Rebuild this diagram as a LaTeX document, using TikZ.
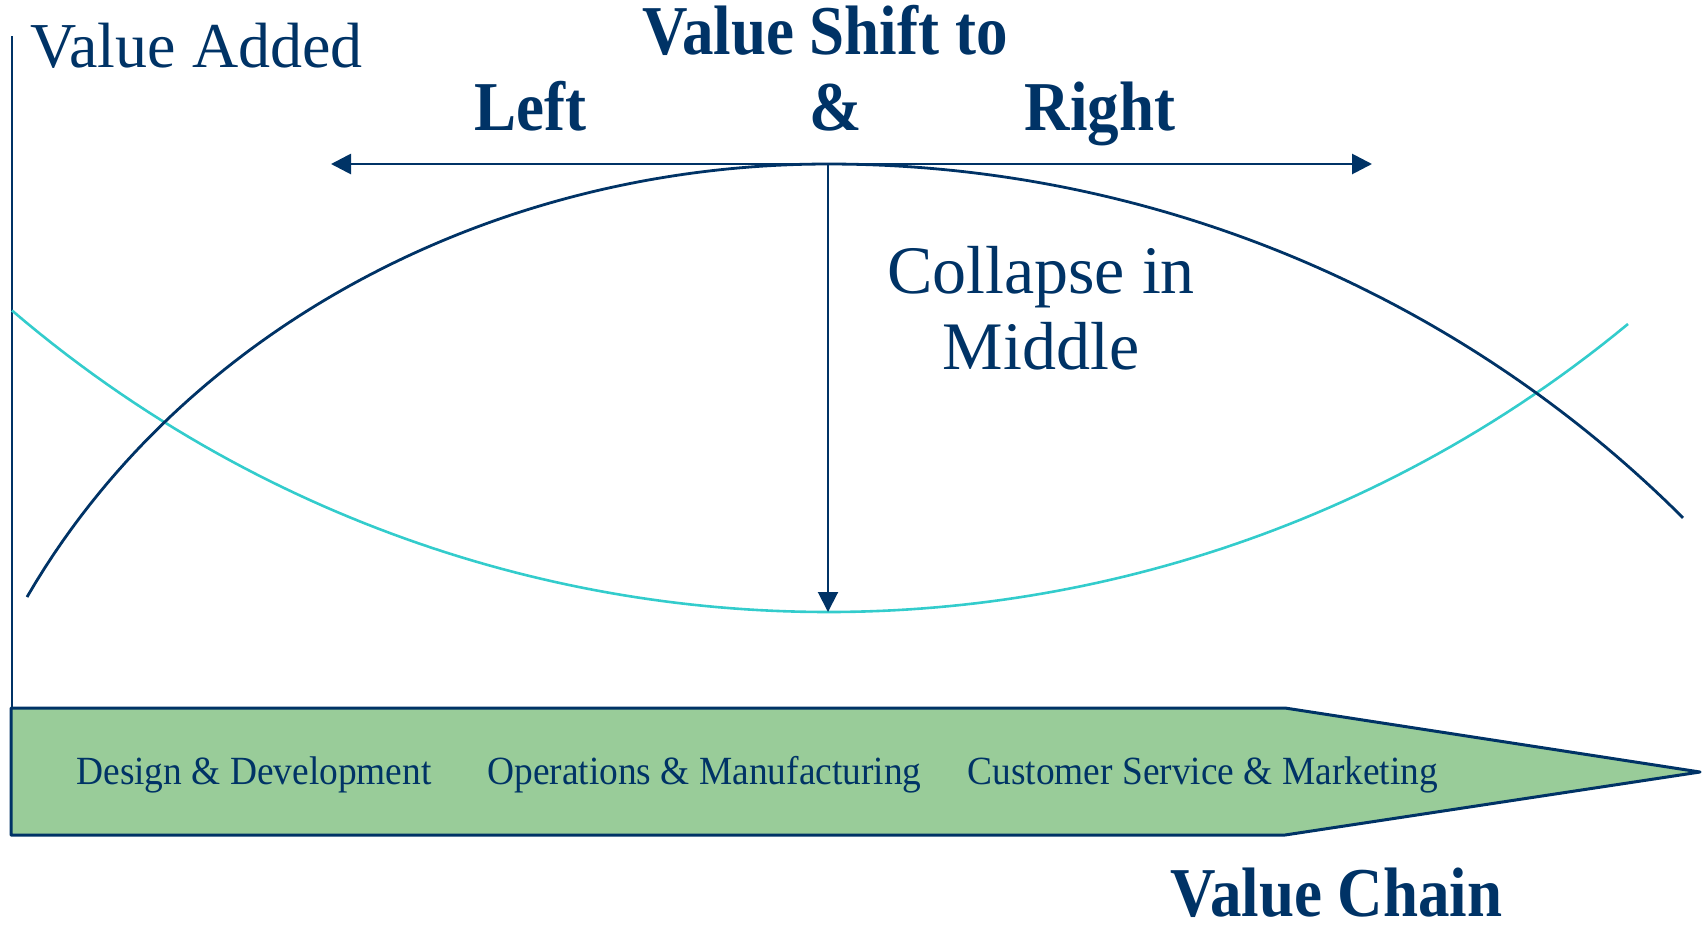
\documentclass[tikz,border=0pt]{standalone}
\usepackage{fontspec}
\setmainfont{Liberation Serif}
\newfontfamily\condA[FakeStretch=0.9]{Liberation Serif}
\newfontfamily\condB[FakeStretch=0.935]{Liberation Serif}
\usetikzlibrary{arrows.meta}
\definecolor{navy}{RGB}{0,51,102}
\definecolor{teal2}{RGB}{51,204,204}
\definecolor{boxgreen}{RGB}{153,204,153}
\tikzset{
  lbl/.style={inner sep=0pt, text=navy},
  bigbold/.style={lbl, font=\condA\bfseries\fontsize{35pt}{40pt}\selectfont},
  stage/.style={lbl, anchor=base west, font=\condB\fontsize{20pt}{24pt}\selectfont},
  darkcurve/.style={draw=navy, line width=1.4pt, line join=round},
  tealcurve/.style={draw=teal2, line width=1.3pt, line join=round},
  arr/.style={draw=navy, -{Triangle[length=10pt,width=10pt]}},
}
\begin{document}
\begin{tikzpicture}[x=0.5pt,y=-0.5pt]
\useasboundingbox (0,0) rectangle (1703,928);
% value chain arrow box
\draw[navy, line width=1.5pt, fill=boxgreen, line join=round]
  (11,708) -- (1285,708) -- (1700,772) -- (1285,835) -- (11,835) -- cycle;
% axis
\coordinate (axtop) at (12,36);
\coordinate (axbot) at (12,708);
\draw[navy, line width=1.3pt] (axtop) -- (axbot);
% curves
\draw[tealcurve] plot[domain=12:1628, samples=120]
  (\x, {612 - 100*(12.55 - sqrt(157.5025 - ((\x-828)/100)^2))});
\draw[darkcurve] plot[domain=27:828, samples=90]
  (\x, {164 + 796*(1 - sqrt(1 - ((\x-828)/900)^2))})
  -- plot[domain=828:1683, samples=90]
  (\x, {164 + 100*(12.1 - sqrt(146.41 - ((\x-828)/100)^2))});
% arrows
\coordinate (top) at (828,164);
\coordinate (lefttip) at (331,164);
\coordinate (righttip) at (1372,164);
\coordinate (downtip) at (828,612);
\draw[arr, line width=1.4pt] (top) -- (lefttip);
\draw[arr, line width=1.4pt] (top) -- (righttip);
\draw[arr, line width=1pt] (top) -- (downtip);
% texts
\node[lbl, anchor=base west, font=\fontsize{32pt}{36pt}\selectfont] (va) at (30,67) {Value Added};
\node[bigbold, anchor=base] (vs) at (825,54) {Value Shift to};
\node[bigbold, anchor=base] (left) at (530,130) {Left};
\node[bigbold, anchor=base] (amp) at (836,130) {\&};
\node[bigbold, anchor=base] (right) at (1100,130) {Right};
\node[lbl, anchor=base, align=center, font=\fontsize{34pt}{38pt}\selectfont] (col) at (1041,369) {Collapse in\\Middle};
\node[stage] (s1) at (76,784) {Design \& Development};
\node[stage] (s2) at (487,784) {Operations \& Manufacturing};
\node[stage] (s3) at (967,784) {Customer Service \& Marketing};
\node[bigbold, anchor=base west] (vc) at (1170,916) {Value Chain};
\end{tikzpicture}
\end{document}
